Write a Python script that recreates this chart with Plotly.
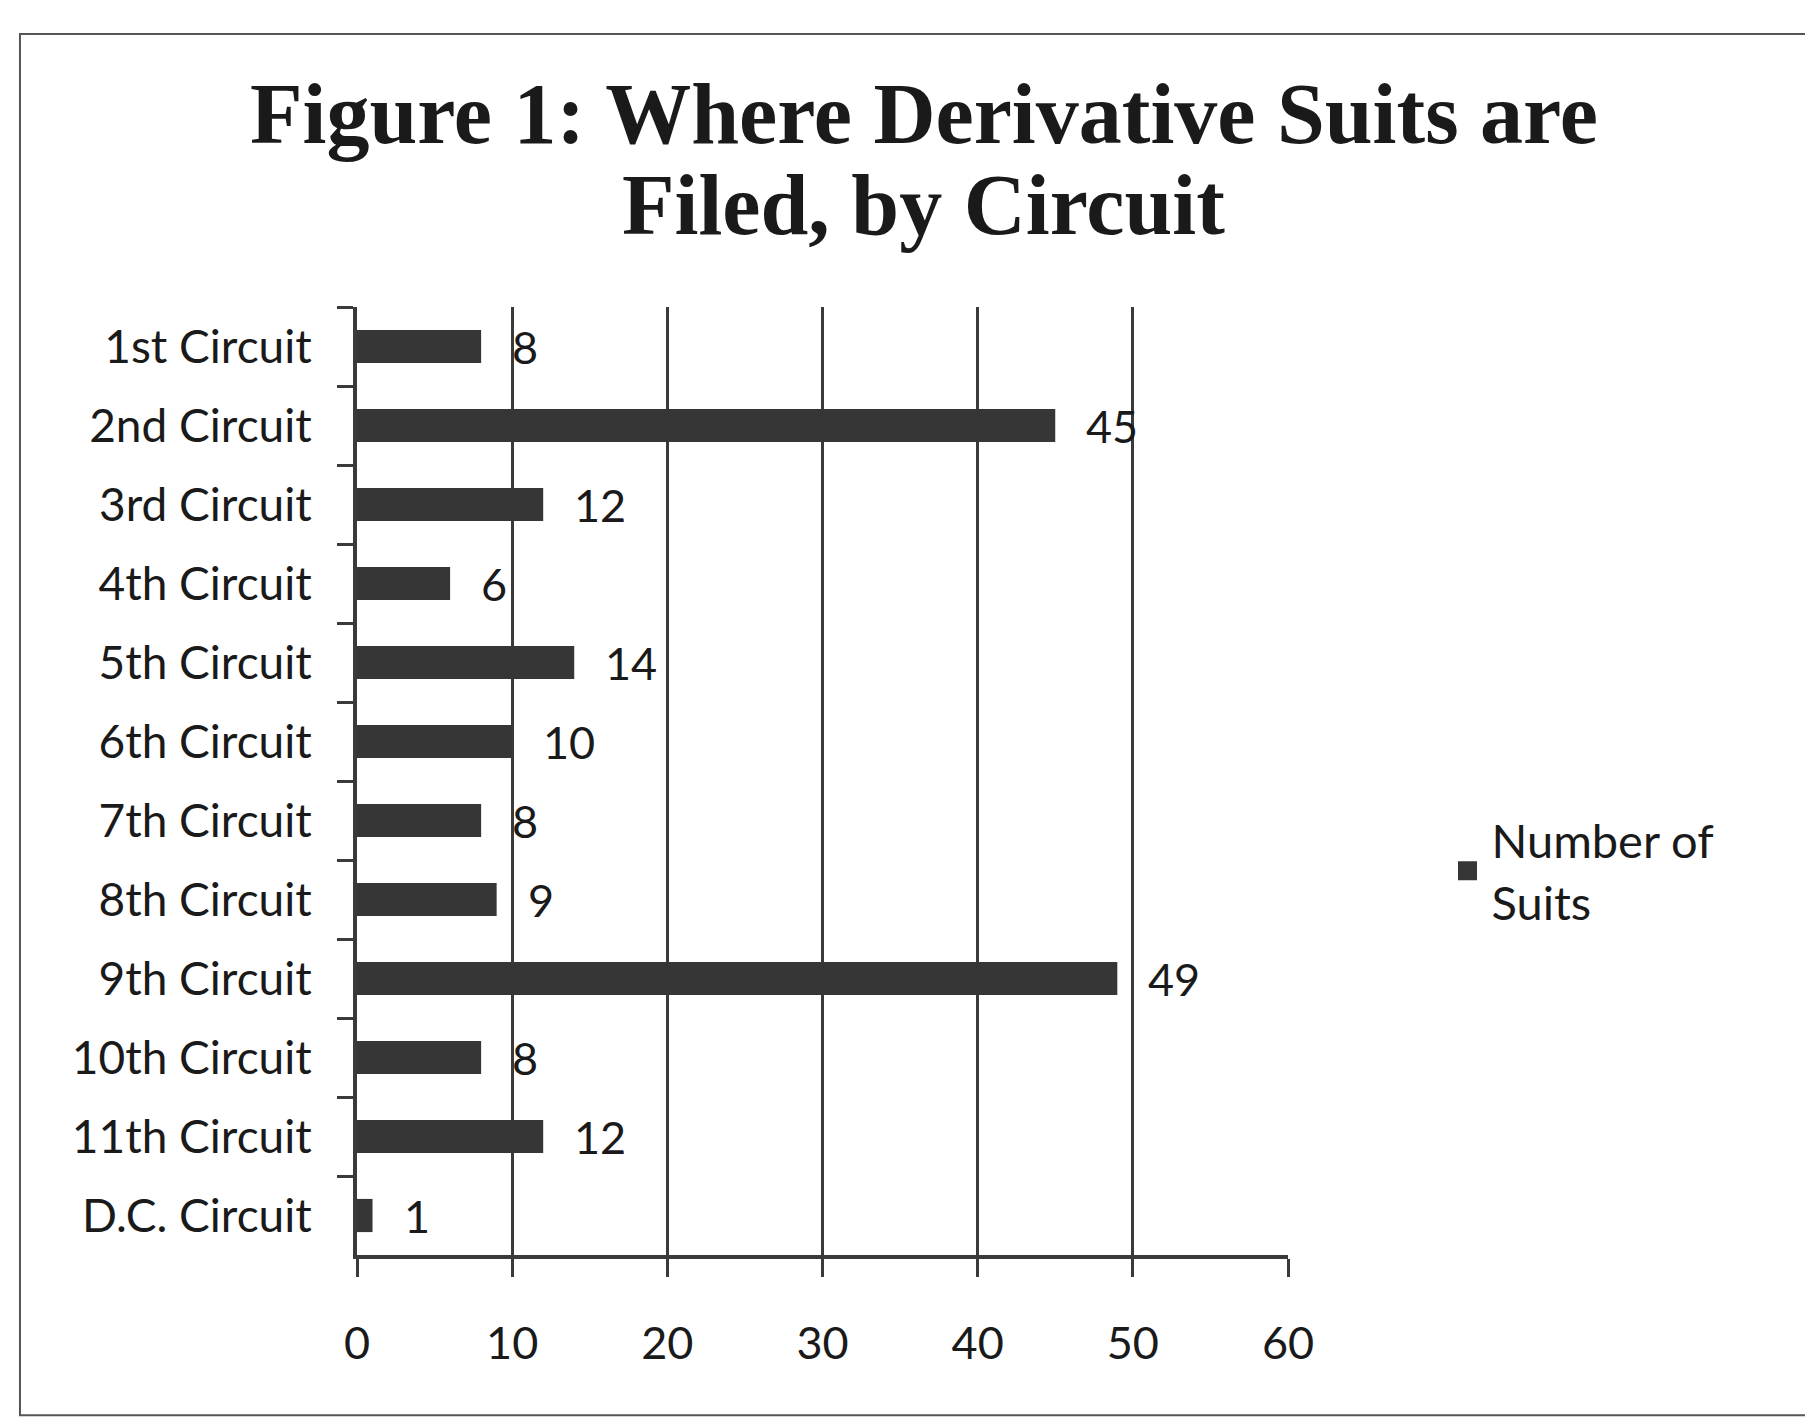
"""Figure 1: where derivative suits are filed, by circuit."""

import plotly.graph_objects as go

circuits = [
    "1st Circuit", "2nd Circuit", "3rd Circuit", "4th Circuit",
    "5th Circuit", "6th Circuit", "7th Circuit", "8th Circuit",
    "9th Circuit", "10th Circuit", "11th Circuit", "D.C. Circuit",
]
suits = [8, 45, 12, 6, 14, 10, 8, 9, 49, 8, 12, 1]
x_ticks = [0, 10, 20, 30, 40, 50, 60]
title_lines = ["Figure 1: Where Derivative Suits are", "Filed, by Circuit"]

INK = "#1a1a1a"
BAR = "#363636"
LINE = "#3a3a3a"
FONT = "Lato, 'Open Sans', sans-serif"
SERIF = "'Liberation Serif', 'DejaVu Serif', serif"

fig = go.Figure()
fig.add_trace(go.Bar(
    x=suits,
    y=circuits,
    orientation="h",
    marker=dict(color=BAR, line=dict(width=0)),
    showlegend=False,
))
# legend entry only, drawn with a bigger square than the bar legend swatch
fig.add_trace(go.Scatter(
    x=[None], y=[None],
    mode="markers",
    name="Number of<br>Suits",
    marker=dict(symbol="square", size=16, color=BAR,
                line=dict(color=BAR, width=3)),
    showlegend=True,
))

# value labels sit a little to the right of each bar end
for c, v in zip(circuits, suits):
    fig.add_annotation(
        x=v, y=c, text=str(v), showarrow=False,
        xanchor="left", yanchor="middle", xshift=29, yshift=0,
        font=dict(family=FONT, size=45, color=INK),
    )

# two-line title, tighter line spacing than plotly's title allows
for line, ty in zip(title_lines, [1.204, 1.108]):
    fig.add_annotation(
        x=0.609, y=ty, xref="paper", yref="paper",
        text=f"<b>{line}</b>", showarrow=False,
        xanchor="center", yanchor="middle",
        font=dict(family=SERIF, size=86, color=INK),
    )

# scanned page border
fig.add_shape(
    type="rect", xref="paper", yref="paper",
    x0=-0.362, x1=1.62, y0=-0.169, y1=1.288,
    line=dict(color="#555555", width=2),
)

fig.update_layout(
    width=1813,
    height=1421,
    paper_bgcolor="white",
    plot_bgcolor="white",
    margin=dict(l=349, r=533, t=299, b=174),
    bargap=0.58,
    font=dict(family=FONT, size=46, color=INK),
    xaxis=dict(
        range=[0, 60],
        tickvals=x_ticks,
        showgrid=True, gridcolor=LINE, gridwidth=3,
        zeroline=False,
        showline=True, linecolor=LINE, linewidth=4,
        ticks="outside", ticklen=18, tickwidth=3, tickcolor=LINE,
        ticklabelstandoff=28,
        tickfont=dict(family=FONT, size=45, color=INK),
    ),
    yaxis=dict(
        autorange="reversed",
        showgrid=False,
        showline=True, linecolor=LINE, linewidth=4,
        ticks="outside", tickson="boundaries", ticklen=16, tickwidth=3,
        tickcolor=LINE,
        ticklabelstandoff=32,
        tickfont=dict(family=FONT, size=46, color=INK),
    ),
    legend=dict(
        x=1.167, y=0.405, xanchor="left", yanchor="middle",
        itemwidth=38,
        font=dict(family=FONT, size=47, color=INK),
        bgcolor="rgba(0,0,0,0)",
    ),
)

fig.write_html("out.html")
